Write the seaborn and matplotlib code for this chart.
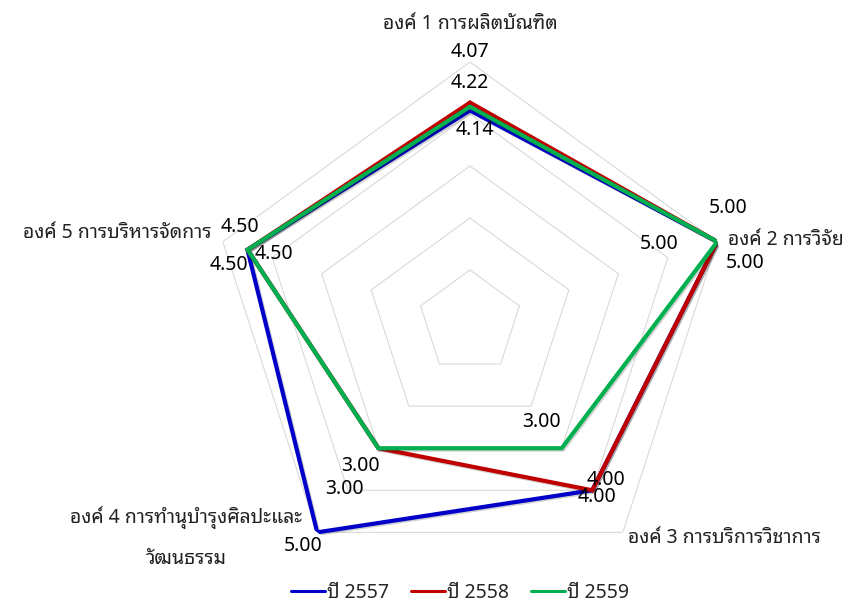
import matplotlib
matplotlib.use("Agg")
import matplotlib.pyplot as plt
import matplotlib.patheffects as pe
import seaborn as sns
import pandas as pd
import numpy as np

sns.set_style("white")
plt.rcParams['font.family'] = ['Noto Sans Thai Looped', 'DejaVu Sans']

# data
categories = ["องค์ 1 การผลิตบัณฑิต", "องค์ 2 การวิจัย", "องค์ 3 การบริการวิชาการ",
              "องค์ 4 การทำนุบำรุงศิลปะและ\nวัฒนธรรม", "องค์ 5 การบริหารจัดการ"]
years = ["ปี 2557", "ปี 2558", "ปี 2559"]
y2557 = [4.07, 5.00, 4.00, 5.00, 4.50]
y2558 = [4.22, 5.00, 4.00, 3.00, 4.50]
y2559 = [4.14, 5.00, 3.00, 3.00, 4.50]
rings = [1, 2, 3, 4, 5]

colors = ["#0000C8", "#C00000", "#00B050"]

# label offsets in pixels (per series, per axis)
label_offsets = [
    [(0, 58), (11, 34), (5, -7), (-14, -14), (-19, -15)],
    [(0, 20), (28, -21), (14, 10), (-18, -18), (-8, 23)],
    [(5, -23), (-58, -2), (-20, 26), (-34, -41), (26, -4)],
]
cat_offsets = [(0, 38), (11, 2), (5, -6), (-131, -5), (-11, 9)]
cat_align = ["center", "left", "left", "center", "right"]

n = len(categories)
theta = np.deg2rad(np.arange(n) * 360 / n)

rows = []
for year, vals in zip(years, [y2557, y2558, y2559]):
    for i in list(range(n)) + [0]:
        rows.append({"year": year, "theta": theta[i], "value": vals[i]})
df = pd.DataFrame(rows)

fig = plt.figure(figsize=(8.51, 6.04), dpi=100)
ax = fig.add_axes([0.2468, 0.0364, 0.6110, 0.8609], projection="polar")
ax.set_theta_zero_location("N")
ax.set_theta_direction(-1)
ax.grid(False)
ax.spines["polar"].set_visible(False)
ax.set_xticks([])
ax.set_yticks([])

closed = np.append(theta, theta[0])
for r in rings:
    ax.plot(closed, [r] * len(closed), color="#D9D9D9", lw=0.8, zorder=1)

sns.lineplot(data=df, x="theta", y="value", hue="year", hue_order=years, palette=colors,
             sort=False, estimator=None, units="year", lw=3, ax=ax, zorder=3)
for line in ax.lines[len(rings):]:
    line.set_path_effects([pe.SimpleLineShadow(offset=(1, -1), alpha=0.18), pe.Normal()])
    line.set_solid_joinstyle("miter")
ax.set_ylim(0, 5)
ax.set_xlabel("")
ax.set_ylabel("")

for s, vals in enumerate([y2557, y2558, y2559]):
    for i in range(n):
        ax.annotate(f"{vals[i]:.2f}", xy=(theta[i], vals[i]), xytext=label_offsets[s][i],
                    textcoords="offset pixels", ha="center", va="center", fontsize=14,
                    color="#000000", zorder=5, annotation_clip=False)

for i in range(n):
    ax.annotate(categories[i], xy=(theta[i], 5), xytext=cat_offsets[i],
                textcoords="offset pixels", ha=cat_align[i], va="center", fontsize=14,
                color="#222222", linespacing=2.35, multialignment="center",
                annotation_clip=False)

handles, labels = ax.get_legend_handles_labels()
ax.get_legend().remove()
for h in handles:
    h.set_linewidth(2.2)
    h.set_path_effects([])
fig.legend(handles, labels, loc="center", bbox_to_anchor=(460 / 851, 1 - 593 / 604), ncol=3,
           frameon=False, fontsize=14, handlelength=1.75, handletextpad=0.1, columnspacing=1.15)

fig.savefig("out.png", dpi=100)
